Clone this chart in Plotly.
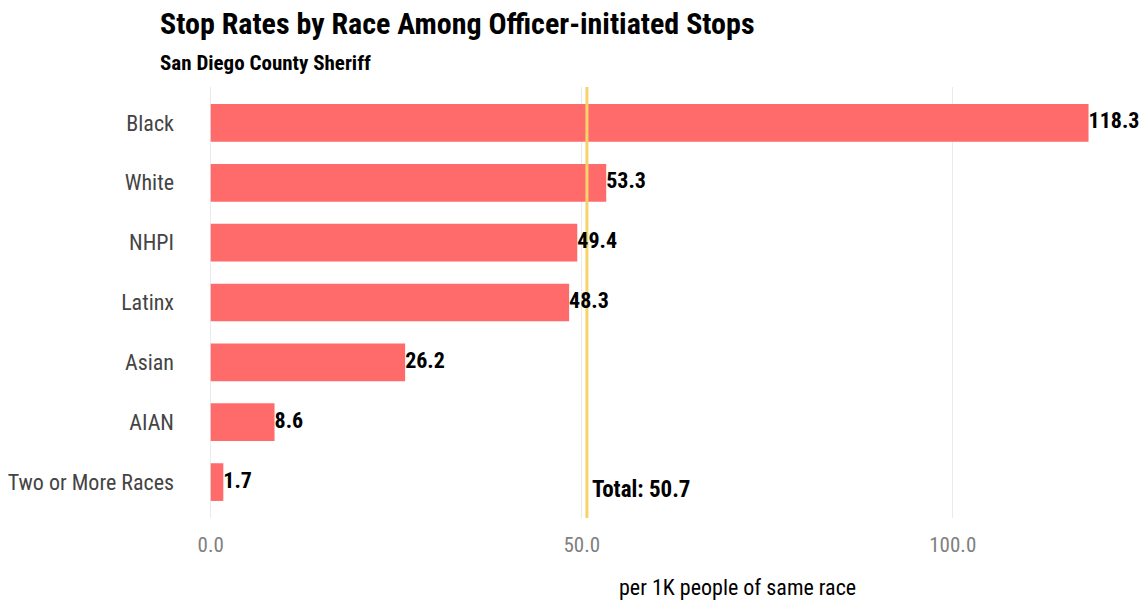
import plotly.graph_objects as go

races = ["Black", "White", "NHPI", "Latinx", "Asian", "AIAN", "Two or More Races"]
rates = [118.3, 53.3, 49.4, 48.3, 26.2, 8.6, 1.7]
total_rate = 50.7
tick_vals = [0, 50, 100]
tick_text = ["0.0", "50.0", "100.0"]

FONT = "Roboto Condensed, Roboto, Liberation Sans, sans-serif"

W, H = 1139, 603
ML, MR, MT, MB = 180, 0, 87, 85
PW, PH = W - ML - MR, H - MT - MB
YR = [-0.6, len(races) - 1 + 0.6]
XR = [-4.14, 125.1]


def px_x(px):
    return (px - ML) / PW


def px_y(py):
    return (H - MB - py) / PH


n = len(races)
ypos = [n - 1 - i for i in range(n)]

fig = go.Figure()
fig.add_trace(go.Bar(
    x=rates, y=races, orientation="h",
    marker=dict(color="#FF6B6B", line=dict(width=0)),
    width=0.63, hoverinfo="skip",
))
fig.add_trace(go.Scatter(
    x=[total_rate, total_rate], y=YR, yaxis="y2", mode="lines",
    line=dict(color="#F5D36A", width=3), hoverinfo="skip",
))
fig.add_trace(go.Scatter(
    x=rates, y=ypos, yaxis="y2", mode="text",
    text=[f"<b>{v:.1f}</b>" for v in rates],
    textposition="middle right",
    textfont=dict(family=FONT, size=22, color="black"),
    cliponaxis=False, hoverinfo="skip",
))

annotations = [
    dict(x=total_rate, y=0, xref="x", yref="y2",
         text="<b>Total: 50.7</b>", showarrow=False, xanchor="left",
         xshift=3, yshift=-7, font=dict(family=FONT, size=23, color="black")),
    dict(x=px_x(158), y=px_y(24), xref="paper", yref="paper", xanchor="left", yanchor="middle",
         text="<b>Stop Rates by Race Among Officer-initiated Stops</b>", showarrow=False,
         font=dict(family=FONT, size=30, color="black")),
    dict(x=px_x(158), y=px_y(63), xref="paper", yref="paper", xanchor="left", yanchor="middle",
         text="<b>San Diego County Sheriff</b>", showarrow=False,
         font=dict(family=FONT, size=21, color="black")),
    dict(x=px_x(737), y=px_y(587), xref="paper", yref="paper", xanchor="center", yanchor="middle",
         text="per 1K people of same race", showarrow=False,
         font=dict(family=FONT, size=22, color="black")),
]

fig.update_layout(
    width=W, height=H,
    margin=dict(l=ML, r=MR, t=MT, b=MB, autoexpand=False),
    plot_bgcolor="white", paper_bgcolor="white",
    showlegend=False,
    annotations=annotations,
    xaxis=dict(
        range=XR, tickvals=tick_vals, ticktext=tick_text,
        showgrid=True, gridcolor="#EBEBEB", gridwidth=1, zeroline=False,
        tickfont=dict(family=FONT, size=21, color="#7F7F7F"),
        ticks="", ticklabelstandoff=12, automargin=False,
    ),
    yaxis=dict(
        categoryorder="array", categoryarray=races[::-1],
        range=YR, showgrid=False, zeroline=False,
        tickfont=dict(family=FONT, size=22, color="#444444"),
        ticks="", ticklabelstandoff=5, automargin=False,
    ),
    yaxis2=dict(
        overlaying="y", range=YR, visible=False, showgrid=False, zeroline=False,
    ),
)
fig.write_html("out.html", config={"displayModeBar": False},
               post_script="document.body.style.margin='0px';")
